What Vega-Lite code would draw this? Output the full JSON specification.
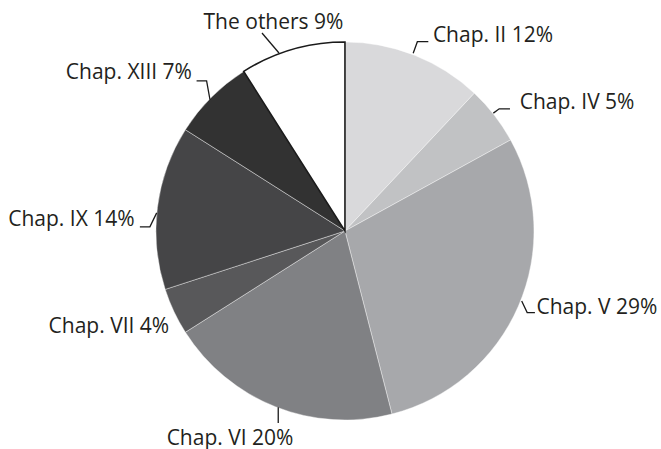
{
  "$schema": "https://vega.github.io/schema/vega-lite/v6.json",
  "width": 661,
  "height": 449,
  "autosize": {"type": "fit", "contains": "padding"},
  "padding": 0,
  "background": "white",
  "config": {"view": {"stroke": null}},
  "datasets": {
    "slices": [
      {"chapter": "Chap. II", "pct": 12, "idx": 1, "fill": "#d9d9db", "edge": "#ffffff", "ew": 0.4},
      {"chapter": "Chap. IV", "pct": 5, "idx": 2, "fill": "#c1c2c4", "edge": "#ffffff", "ew": 0.4},
      {"chapter": "Chap. V", "pct": 29, "idx": 3, "fill": "#a7a8ab", "edge": "#ffffff", "ew": 0.4},
      {"chapter": "Chap. VI", "pct": 20, "idx": 4, "fill": "#808184", "edge": "#ffffff", "ew": 0.4},
      {"chapter": "Chap. VII", "pct": 4, "idx": 5, "fill": "#58585a", "edge": "#ffffff", "ew": 0.4},
      {"chapter": "Chap. IX", "pct": 14, "idx": 6, "fill": "#454547", "edge": "#ffffff", "ew": 0.4},
      {"chapter": "Chap. XIII", "pct": 7, "idx": 7, "fill": "#323232", "edge": "#ffffff", "ew": 0.4},
      {"chapter": "The others", "pct": 9, "idx": 8, "fill": "#ffffff", "edge": "#1a1a1a", "ew": 1.6}
    ],
    "labels": [
      {"label": "The others 9%", "lx": -37.8, "ly": 107.0},
      {"label": "Chap. II 12%", "lx": 78.3, "ly": 100.4},
      {"label": "Chap. IV 5%", "lx": 122.8, "ly": 64.7},
      {"label": "Chap. V 29%", "lx": 133.3, "ly": -44.2},
      {"label": "Chap. VI 20%", "lx": -60.8, "ly": -113.5},
      {"label": "Chap. VII 4%", "lx": -124.9, "ly": -53.9},
      {"label": "Chap. IX 14%", "lx": -144.7, "ly": 2.5},
      {"label": "Chap. XIII 7%", "lx": -114.3, "ly": 80.5}
    ],
    "leaders": [
      {"id": "others", "seq": 1, "px": -43.9, "py": 105.0},
      {"id": "others", "seq": 2, "px": -34.9, "py": 94.4},
      {"id": "II", "seq": 1, "px": 36.1, "py": 94.3},
      {"id": "II", "seq": 2, "px": 38.3, "py": 100.4},
      {"id": "II", "seq": 3, "px": 44.1, "py": 100.4},
      {"id": "IV", "seq": 1, "px": 78.5, "py": 62.5},
      {"id": "IV", "seq": 2, "px": 81.6, "py": 64.8},
      {"id": "IV", "seq": 3, "px": 87.3, "py": 64.8},
      {"id": "V", "seq": 1, "px": 93.5, "py": -37.1},
      {"id": "V", "seq": 2, "px": 96.4, "py": -43.3},
      {"id": "V", "seq": 3, "px": 100.5, "py": -43.3},
      {"id": "VI", "seq": 1, "px": -35.3, "py": -93.5},
      {"id": "VI", "seq": 2, "px": -35.3, "py": -101.9},
      {"id": "IX", "seq": 1, "px": -108.5, "py": 2.2},
      {"id": "IX", "seq": 2, "px": -103.2, "py": 2.2},
      {"id": "IX", "seq": 3, "px": -99.6, "py": 9.6},
      {"id": "XIII", "seq": 1, "px": -78.5, "py": 79.6},
      {"id": "XIII", "seq": 2, "px": -73.2, "py": 79.6},
      {"id": "XIII", "seq": 3, "px": -71.4, "py": 69.6}
    ]
  },
  "layer": [
    {
      "data": {"name": "slices"},
      "mark": {"type": "arc", "radius": 189},
      "encoding": {
        "x": {"datum": 0, "type": "quantitative", "scale": {"domain": [-182.5, 167.2], "nice": false, "zero": false}, "axis": null},
        "y": {"datum": 0, "type": "quantitative", "scale": {"domain": [-115.1, 122.5], "nice": false, "zero": false}, "axis": null},
        "theta": {"field": "pct", "type": "quantitative", "stack": true},
        "order": {"field": "idx", "type": "quantitative"},
        "fill": {"field": "fill", "type": "nominal", "scale": null, "legend": null},
        "stroke": {"field": "edge", "type": "nominal", "scale": null, "legend": null},
        "strokeWidth": {"field": "ew", "type": "quantitative", "scale": null, "legend": null}
      }
    },
    {
      "data": {"name": "leaders"},
      "mark": {"type": "line", "color": "#1a1a1a", "strokeWidth": 1.3, "interpolate": "linear"},
      "encoding": {
        "x": {"field": "px", "type": "quantitative"},
        "y": {"field": "py", "type": "quantitative"},
        "detail": {"field": "id", "type": "nominal"},
        "order": {"field": "seq", "type": "quantitative"}
      }
    },
    {
      "data": {"name": "labels"},
      "mark": {"type": "text", "font": "Open Sans", "fontSize": 21, "color": "#231f20", "align": "center", "baseline": "alphabetic"},
      "encoding": {
        "x": {"field": "lx", "type": "quantitative"},
        "y": {"field": "ly", "type": "quantitative"},
        "text": {"field": "label", "type": "nominal"}
      }
    }
  ]
}
